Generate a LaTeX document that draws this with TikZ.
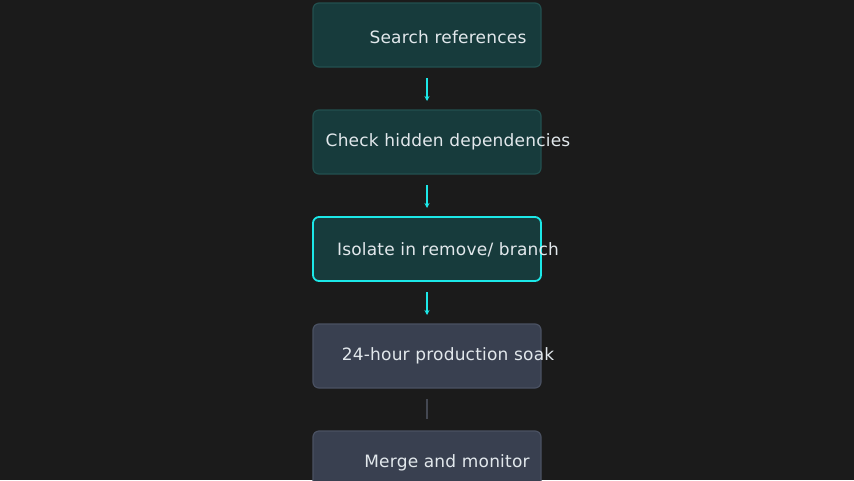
\documentclass[tikz,border=0pt]{standalone}
\usepackage{fontspec}
\setmainfont{DejaVu Sans}[LetterSpace=1.2]
\usetikzlibrary{arrows.meta}
\definecolor{bg}{HTML}{1B1B1B}
\definecolor{tealf}{HTML}{173B3C}
\definecolor{teald}{HTML}{22504F}
\definecolor{cy}{HTML}{1CE8E8}
\definecolor{grf}{HTML}{394050}
\definecolor{grd}{HTML}{4A5162}
\definecolor{lnk}{HTML}{444852}
\definecolor{txt}{HTML}{E2E8EC}
\begin{document}
\begin{tikzpicture}[x=1pt,y=-1pt,
 box/.style={draw=teald,fill=tealf,line width=1.2pt,rounded corners=6pt,minimum width=228pt,minimum height=64pt},
 gbox/.style={box,draw=grd,fill=grf},
 lbl/.style={text=txt,font=\fontsize{17}{20}\selectfont},
 arr/.style={draw=cy,line width=1.3pt,-{Stealth[length=5pt,width=5pt]}}]
\fill[bg] (0,0) rectangle (854,480);
\useasboundingbox (0,0) rectangle (854,480);
\node[box] (b1) at (427,35) {};
\node[box] (b2) at (427,142) {};
\node[box,draw=cy,line width=1.8pt] (b3) at (427,249) {};
\node[gbox] (b4) at (427,356) {};
\node[gbox] (b5) at (427,463) {};
\node[lbl] (t1) at (448,37) {Search references};
\node[lbl] (t2) at (448,142) {Check hidden dependencies};
\node[lbl] (t3) at (448,250) {Isolate in remove/ branch};
\node[lbl] (t4) at (448,356) {24-hour production soak};
\node[lbl] (t5) at (447,463) {Merge and monitor};
\coordinate (a1) at (427,78); \coordinate (a2) at (427,101);
\coordinate (c1) at (427,185); \coordinate (c2) at (427,208);
\coordinate (d1) at (427,292); \coordinate (d2) at (427,315);
\coordinate (e1) at (427,399); \coordinate (e2) at (427,419);
\draw[arr] (a1) -- (a2);
\draw[arr] (c1) -- (c2);
\draw[arr] (d1) -- (d2);
\draw[draw=lnk,line width=1.2pt] (e1) -- (e2);
\end{tikzpicture}
\end{document}
